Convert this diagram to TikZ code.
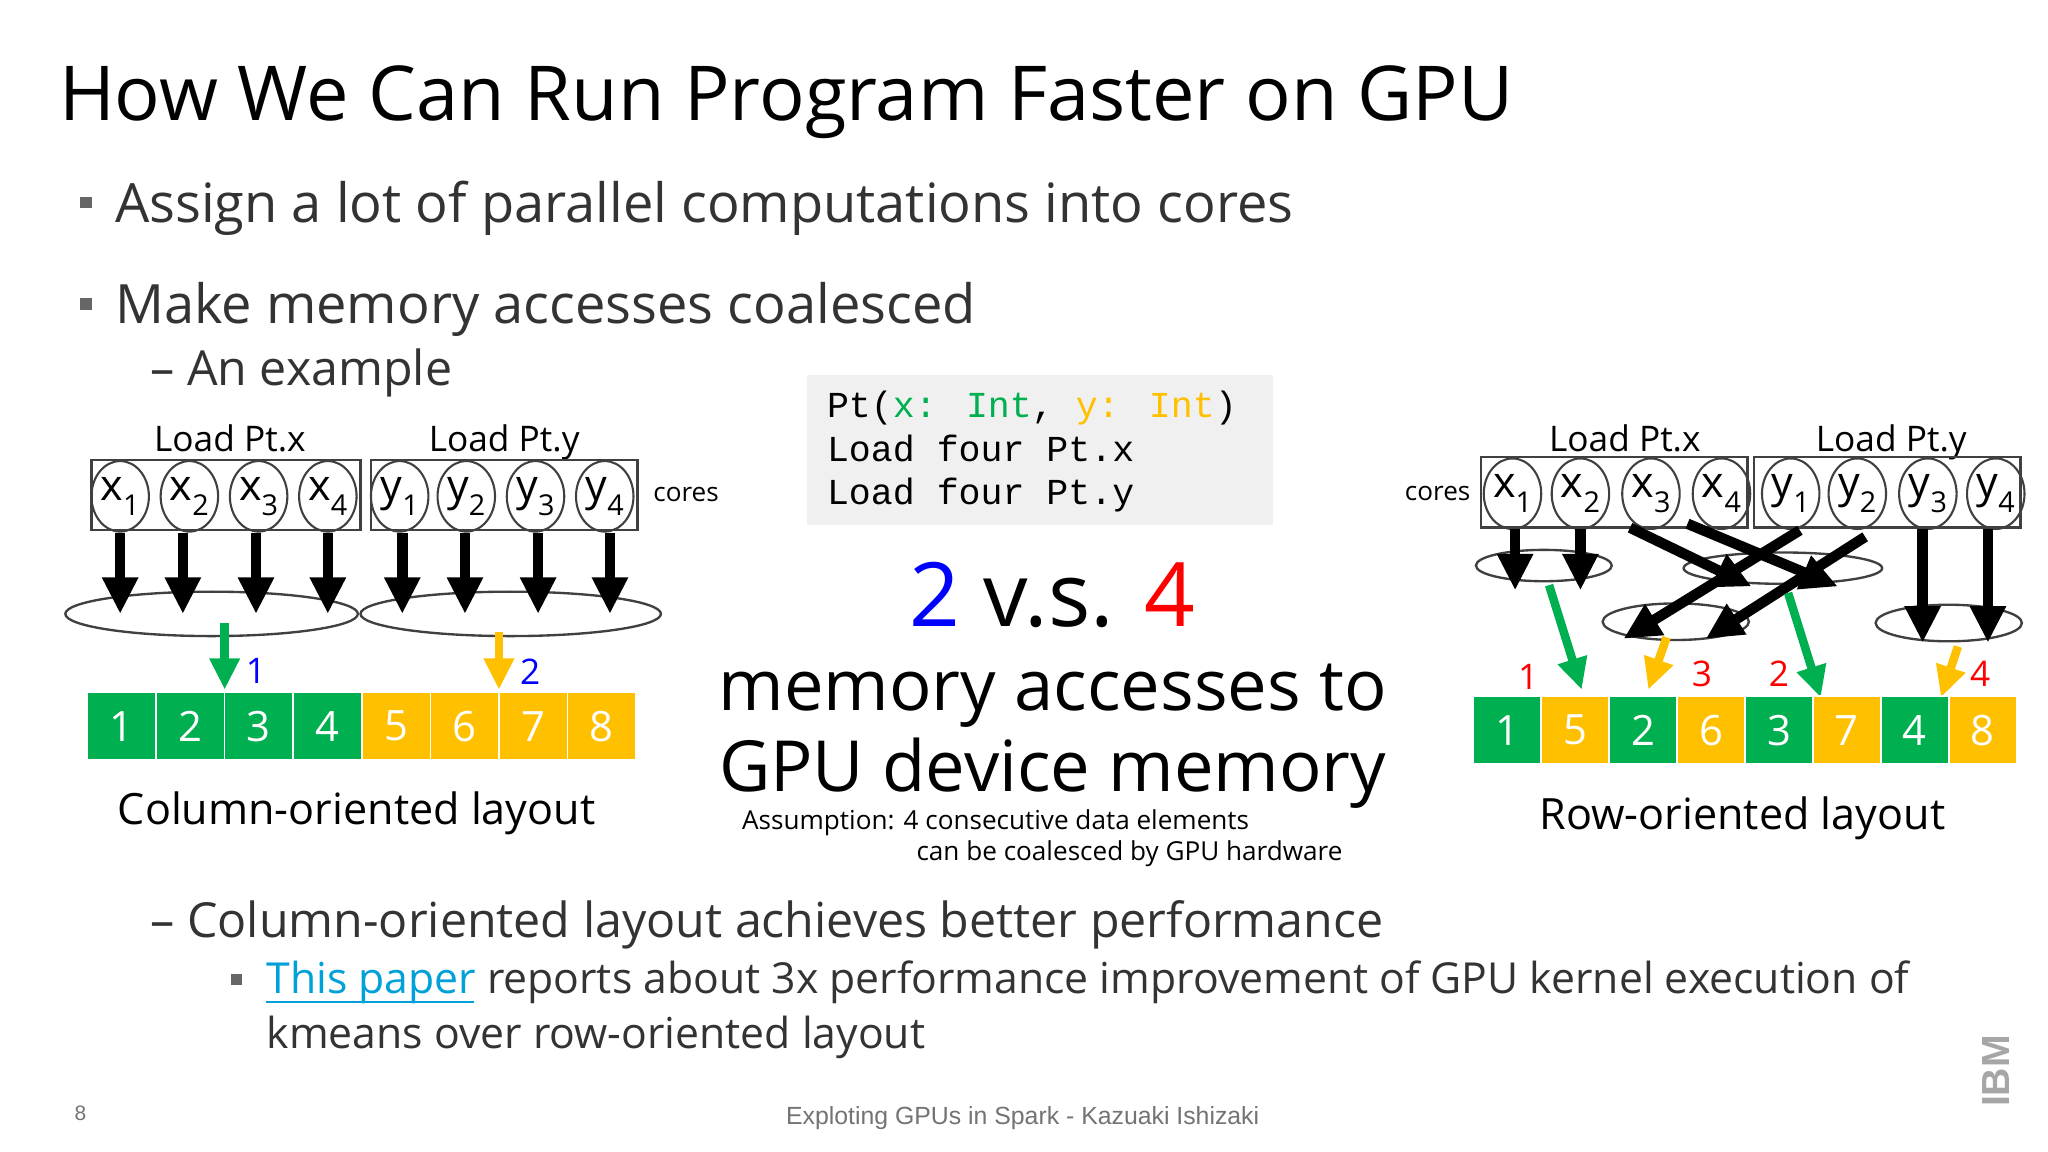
\documentclass[tikz,border=0pt]{standalone}
\usepackage{fontspec}
\setmainfont{Open Sans}
\newfontfamily\monof{Liberation Mono}
\newfontfamily\arialf{Liberation Sans}
\usetikzlibrary{arrows.meta,shapes.geometric}
\definecolor{gr}{HTML}{00B050}
\definecolor{ye}{HTML}{FFC000}
\definecolor{lnk}{HTML}{00A0D8}
\newcommand{\sbx}[2]{#1\raisebox{-0.35em}{\fontsize{22}{22}\selectfont #2}}
\begin{document}
\begin{tikzpicture}[x=1pt,y=-1pt,
  txt/.style={inner sep=0pt,anchor=base west},
  core/.style={draw=black!75,line width=1.6pt,ellipse,minimum width=44pt,minimum height=54pt,inner sep=0pt,font=\fontsize{33}{33}\selectfont},
  grp/.style={draw=black!75,line width=1.8pt},
  ell/.style={draw=black!75,line width=1.8pt},
  barr/.style={line width=8pt,-{Triangle[width=26pt,length=28pt]}},
  garr/.style={line width=6.5pt,gr,-{Triangle[width=22pt,length=24pt]}},
  yarr/.style={line width=6.5pt,ye,-{Triangle[width=22pt,length=24pt]}},
  cell/.style={minimum width=52.5pt,minimum height=52pt,inner sep=0pt,text=white,font=\fontsize{32}{32}\selectfont,draw=white,line width=1.2pt},
  bul/.style={fill=black!60,minimum size=9pt,inner sep=0pt}]
\useasboundingbox (0,0) rectangle (1568,882);
\fill[white] (0,0) rectangle (1568,882);
% title and bullets
\node[txt,font=\fontsize{58}{58}\selectfont] (title) at (45,92) {How We Can Run Program Faster on GPU};
\node[bul] (b1) at (66,155) {};
\node[txt,font=\fontsize{41.5}{41.5}\selectfont,text=black!80] (t1) at (88,170) {Assign a lot of parallel computations into cores};
\node[bul] (b2) at (66,233) {};
\node[txt,font=\fontsize{41.5}{41.5}\selectfont,text=black!80] (t2) at (88,248) {Make memory accesses coalesced};
\node[txt,font=\fontsize{37}{37}\selectfont,text=black!80] (t3) at (115,295) {– An example};
% left diagram
\node[font=\fontsize{27}{27}\selectfont,anchor=base] (llx) at (176,346) {Load Pt.x};
\node[font=\fontsize{27}{27}\selectfont,anchor=base] (lly) at (386,346) {Load Pt.y};
\draw[grp] (70,352) rectangle (276,406);
\draw[grp] (284,352) rectangle (488,406);
\foreach \i/\x in {1/92,2/145,3/198,4/251}{\node[core] (lx\i) at (\x,380) {\sbx{x}{\i}};}
\foreach \i/\x in {1/306,2/357,3/410,4/463}{\node[core] (ly\i) at (\x,380) {\sbx{y}{\i}};}
\node[font=\fontsize{20}{20}\selectfont,anchor=base west,inner sep=0pt] (lcores) at (500,384) {cores};
\draw[ell] (162,470) ellipse (112pt and 17pt);
\draw[ell] (391,470) ellipse (115pt and 17pt);
\foreach \x in {92,140,196,251,308,356,412,467}{\draw[barr] (\x,408) -- (\x,470);}
\draw[garr] (172,477) -- (172,528);
\draw[yarr] (382,484) -- (382,528);
\node[blue,font=\fontsize{27}{27}\selectfont] (n1) at (196,514) {1};
\node[blue,font=\fontsize{27}{27}\selectfont] (n2) at (406,514) {2};
\foreach \i in {1,...,4}{\node[cell,fill=gr] (lc\i) at ({67+52.5*(\i-0.5)},556) {\i};}
\foreach \i in {5,...,8}{\node[cell,fill=ye] (lc\i) at ({67+52.5*(\i-0.5)},556) {\i};}
\node[font=\fontsize{33}{33}\selectfont,anchor=base] (lcap) at (273,631) {Column-oriented layout};
% code box
\fill[black!6] (618,287) rectangle (975,402);
\node[txt,font=\monof\fontsize{28}{28}\selectfont] (c1) at (633,320) {Pt(\textcolor{gr}{x: Int}, \textcolor{ye}{y: Int})};
\node[txt,font=\monof\fontsize{28}{28}\selectfont] (c2) at (633,353) {Load four Pt.x};
\node[txt,font=\monof\fontsize{28}{28}\selectfont] (c3) at (633,386) {Load four Pt.y};
\node[font=\fontsize{68}{68}\selectfont,anchor=base] (vs) at (806,480) {\textcolor{blue}{2} v.s. \textcolor{red}{4}};
\node[font=\fontsize{54}{54}\selectfont,anchor=base] (m1) at (806,544) {memory accesses to};
\node[font=\fontsize{54}{54}\selectfont,anchor=base] (m2) at (806,606) {GPU device memory};
\node[txt,font=\fontsize{20}{20}\selectfont] (as1) at (568,635) {Assumption: 4 consecutive data elements};
\node[inner sep=0pt,anchor=base east,font=\fontsize{20}{20}\selectfont] (as2) at (1028,659) {can be coalesced by GPU hardware};
% right diagram
\node[font=\fontsize{27}{27}\selectfont,anchor=base] (rlx) at (1244,346) {Load Pt.x};
\node[font=\fontsize{27}{27}\selectfont,anchor=base] (rly) at (1448,346) {Load Pt.y};
\draw[grp] (1134,350) rectangle (1338,404);
\draw[grp] (1343,350) rectangle (1547,404);
\foreach \i/\x in {1/1158,2/1210,3/1264,4/1318}{\node[core] (rx\i) at (\x,378) {\sbx{x}{\i}};}
\foreach \i/\x in {1/1371,2/1422,3/1476,4/1528}{\node[core] (ry\i) at (\x,378) {\sbx{y}{\i}};}
\node[font=\fontsize{20}{20}\selectfont,anchor=base east,inner sep=0pt] (rcores) at (1126,383) {cores};
\draw[ell] (1182,433) ellipse (52pt and 12pt);
\draw[ell] (1365,435) ellipse (76pt and 12pt);
\draw[ell] (1283,476) ellipse (56pt and 14pt);
\draw[ell] (1492,477) ellipse (56pt and 14pt);
\draw[barr] (1160,405) -- (1160,452);
\draw[barr] (1210,405) -- (1210,452);
\draw[barr] (1248,404) -- (1341,449);
\draw[barr] (1292,401) -- (1407,449);
\draw[barr] (1378,406) -- (1243,489);
\draw[barr] (1428,411) -- (1306,489);
\draw[barr] (1472,405) -- (1472,492);
\draw[barr] (1522,405) -- (1522,492);
\draw[garr] (1186,448) -- (1211,528);
\draw[yarr] (1276,488) -- (1262,528);
\draw[garr] (1369,454) -- (1394,534);
\draw[yarr] (1499,495) -- (1486,534);
\node[red,font=\fontsize{27}{27}\selectfont] (r1) at (1170,518) {1};
\node[red,font=\fontsize{27}{27}\selectfont] (r3) at (1303,516) {3};
\node[red,font=\fontsize{27}{27}\selectfont] (r2) at (1362,516) {2};
\node[red,font=\fontsize{27}{27}\selectfont] (r4) at (1516,516) {4};
\foreach \k/\v/\c in {1/1/gr,2/5/ye,3/2/gr,4/6/ye,5/3/gr,6/7/ye,7/4/gr,8/8/ye}{\node[cell,fill=\c,minimum width=52pt] (rc\k) at ({1128+52*(\k-0.5)},559) {\v};}
\node[font=\fontsize{33}{33}\selectfont,anchor=base] (rcap) at (1334,635) {Row-oriented layout};
% bottom text
\node[txt,font=\fontsize{37}{37}\selectfont,text=black!80] (t4) at (115,718) {– Column-oriented layout achieves better performance};
\node[bul,minimum size=8pt] (b3) at (181,750) {};
\node[txt,font=\fontsize{32.7}{32.7}\selectfont,text=black!80] (t5) at (204,761) {\textcolor{lnk}{This paper}\hspace{0.25em}reports about 3x performance improvement of GPU kernel execution of};
\draw[lnk,line width=1.5pt] (204,767) -- (363,767);
\node[txt,font=\fontsize{32.7}{32.7}\selectfont,text=black!80] (t6) at (204,803) {kmeans over row-oriented layout};
\node[txt,font=\arialf\fontsize{16}{16}\selectfont,text=black!55] (pg) at (57,858) {8};
\node[inner sep=0pt,anchor=base,font=\arialf\fontsize{19}{19}\selectfont,text=black!55] (foot) at (783,861) {Exploting GPUs in Spark - Kazuaki Ishizaki};
\node[rotate=90,font=\arialf\bfseries\fontsize{30}{30}\selectfont,text=black!35] (ibm) at (1528,820) {IBM};
\end{tikzpicture}
\end{document}
